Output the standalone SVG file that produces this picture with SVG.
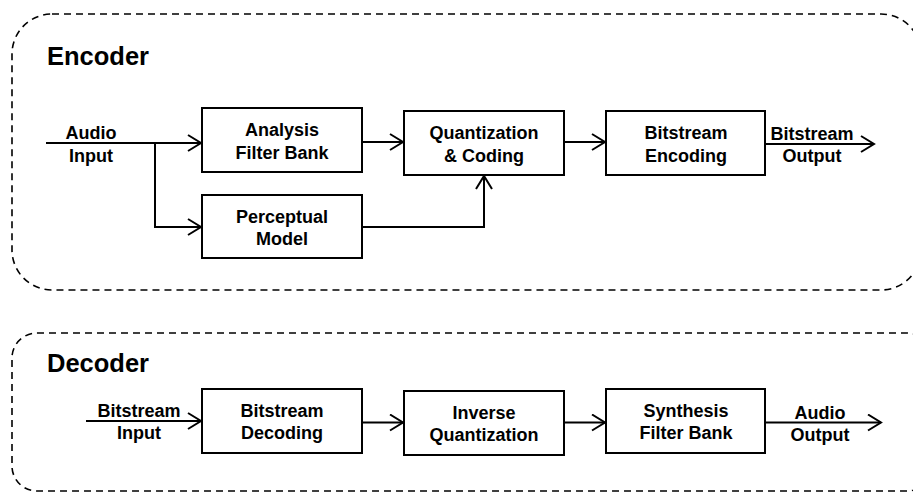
<svg xmlns="http://www.w3.org/2000/svg" width="913" height="492" viewBox="0 0 913 492">
<defs>
<style>
.grp{fill:none;stroke:#000;stroke-width:1.6;stroke-dasharray:7 5}
.box{fill:#fff;stroke:#000;stroke-width:2}
.ln{fill:none;stroke:#000;stroke-width:2}
.t{font-family:"Liberation Sans",Arial,sans-serif;font-weight:bold;font-size:18px;text-anchor:middle;fill:#000}
.h{font-family:"Liberation Sans",Arial,sans-serif;font-weight:bold;font-size:25.5px;fill:#000}
</style>
<marker id="arr" markerWidth="16" markerHeight="18" refX="14" refY="9" orient="auto" markerUnits="userSpaceOnUse">
<path d="M1,1 L14,9 L1,17" fill="none" stroke="#000" stroke-width="2"/>
</marker>
</defs>
<rect width="913" height="492" fill="#fff"/>
<g id="encoder-group">
<rect class="grp" x="12" y="14" width="909" height="276" rx="40" ry="40"/>
<text class="h" x="47" y="65">Encoder</text>
</g>
<g id="decoder-group">
<rect class="grp" x="12" y="333" width="920" height="158" rx="25" ry="25"/>
<text class="h" x="47" y="372">Decoder</text>
</g>
<g id="connectors">
<line class="ln" x1="46" y1="143" x2="201" y2="143" marker-end="url(#arr)"/>
<polyline class="ln" points="155,143 155,227 201,227" marker-end="url(#arr)"/>
<line class="ln" x1="362" y1="142" x2="403" y2="142" marker-end="url(#arr)"/>
<polyline class="ln" points="362,227 484,227 484,176" marker-end="url(#arr)"/>
<line class="ln" x1="564" y1="142" x2="605" y2="142" marker-end="url(#arr)"/>
<line class="ln" x1="765" y1="144" x2="874" y2="144" marker-end="url(#arr)"/>
<line class="ln" x1="86" y1="421" x2="201" y2="421" marker-end="url(#arr)"/>
<line class="ln" x1="362" y1="422.5" x2="403" y2="422.5" marker-end="url(#arr)"/>
<line class="ln" x1="564" y1="422.5" x2="605" y2="422.5" marker-end="url(#arr)"/>
<line class="ln" x1="765" y1="422.5" x2="881" y2="422.5" marker-end="url(#arr)"/>
</g>
<g id="label-audio-input">
<text class="t" x="91" y="139">Audio</text>
<text class="t" x="91" y="162">Input</text>
</g>
<g id="analysis-filter-bank">
<rect class="box" x="202" y="108" width="160" height="64"/>
<text class="t" x="282" y="136">Analysis</text>
<text class="t" x="282" y="159">Filter Bank</text>
</g>
<g id="perceptual-model">
<rect class="box" x="202" y="195" width="160" height="63"/>
<text class="t" x="282" y="223">Perceptual</text>
<text class="t" x="282" y="245">Model</text>
</g>
<g id="quantization-coding">
<rect class="box" x="404" y="111" width="160" height="64"/>
<text class="t" x="484" y="139">Quantization</text>
<text class="t" x="484" y="162">&amp; Coding</text>
</g>
<g id="bitstream-encoding">
<rect class="box" x="606" y="111" width="159" height="64"/>
<text class="t" x="686" y="139">Bitstream</text>
<text class="t" x="686" y="162">Encoding</text>
</g>
<g id="label-bitstream-output">
<text class="t" x="812" y="140">Bitstream</text>
<text class="t" x="812" y="162">Output</text>
</g>
<g id="label-bitstream-input">
<text class="t" x="139" y="417">Bitstream</text>
<text class="t" x="139" y="439">Input</text>
</g>
<g id="bitstream-decoding">
<rect class="box" x="202" y="389" width="160" height="64"/>
<text class="t" x="282" y="417">Bitstream</text>
<text class="t" x="282" y="439">Decoding</text>
</g>
<g id="inverse-quantization">
<rect class="box" x="404" y="391" width="160" height="64"/>
<text class="t" x="484" y="419">Inverse</text>
<text class="t" x="484" y="441">Quantization</text>
</g>
<g id="synthesis-filter-bank">
<rect class="box" x="606" y="389" width="159" height="64"/>
<text class="t" x="686" y="417">Synthesis</text>
<text class="t" x="686" y="439">Filter Bank</text>
</g>
<g id="label-audio-output">
<text class="t" x="820" y="419">Audio</text>
<text class="t" x="820" y="441">Output</text>
</g>
</svg>
